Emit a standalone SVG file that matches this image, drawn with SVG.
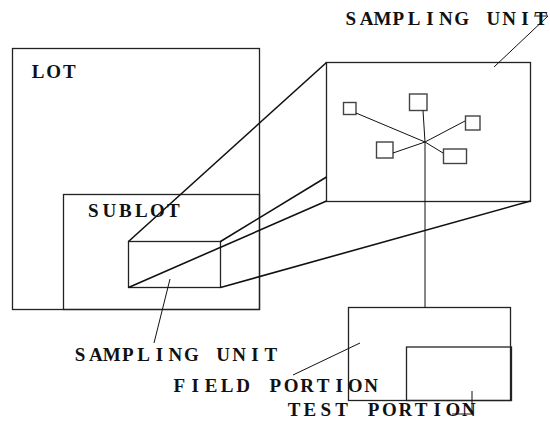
<svg xmlns="http://www.w3.org/2000/svg" width="550" height="421" viewBox="0 0 550 421">
<style>
.box{fill:none;stroke:#222;stroke-width:1.3}
.sm{fill:none;stroke:#444;stroke-width:1.4}
.con{fill:none;stroke:#111;stroke-width:1.6}
.thin{fill:none;stroke:#111;stroke-width:1}
.lbl{font-family:"Liberation Serif","Times New Roman",serif;font-size:19px;font-weight:bold;text-anchor:middle;fill:#111}
</style>
<rect width="550" height="421" fill="#fff"/>
<g id="lot"><rect class="box" x="12.5" y="48.5" width="247" height="261"/><text class="lbl" x="38 53.7 69.4" y="78">LOT</text></g>
<g id="sublot"><rect class="box" x="63.5" y="194.5" width="196" height="115"/><text class="lbl" x="93.3 109.3 125.3 141.3 157.3 173.3" y="217">SUBLOT</text></g>
<g id="unit-small"><rect class="box" x="128.5" y="241.5" width="92" height="46"/></g>
<g id="unit-big"><rect class="box" x="326.5" y="62.5" width="204" height="139"/>
<rect class="sm" x="343.5" y="102.5" width="12.5" height="12"/>
<rect class="sm" x="409.5" y="94" width="17.5" height="16.5"/>
<rect class="sm" x="465.5" y="116" width="14.5" height="14"/>
<rect class="sm" x="376.5" y="142" width="16.5" height="16"/>
<rect class="sm" x="443.5" y="149" width="23" height="14.5"/>
</g>
<g id="field-portion"><rect class="box" x="348.5" y="307.5" width="162" height="93"/></g>
<g id="test-portion"><rect class="box" x="406.5" y="347" width="105" height="53.5"/></g>
<g id="labels">
<text class="lbl" x="350.8 366.6 382.5 398.3 414.1 430 445.8 461.6 477.4 493.3 509.1 524.9 540.8" y="25">SAMPLING UNIT</text>
<text class="lbl" x="80 95.9 111.8 127.7 143.6 159.5 175.4 191.3 207.2 223.1 239 254.9 270.8" y="361">SAMPLING UNIT</text>
<text class="lbl" x="179.2 195.2 211.2 227.2 243.2 259.2 275.2 291.2 307.2 323.2 339.2 355.2 371.2" y="392">FIELD PORTION</text>
<text class="lbl" x="294 309.9 325.8 341.7 357.6 373.5 389.4 405.3 421.2 437.1 453 468.9" y="416">TEST PORTION</text>
</g>
<g id="connectors">
<line class="con" x1="128.5" y1="241.5" x2="326.5" y2="62.5"/>
<line class="con" x1="220.5" y1="241.5" x2="326.5" y2="177"/>
<line class="con" x1="128.5" y1="287.5" x2="326.5" y2="201"/>
<line class="con" x1="220.5" y1="287.5" x2="530.5" y2="201"/>
<polyline class="thin" points="356,113 425,142 443,153"/>
<polyline class="thin" points="465,121 425,142 393,153"/>
<polyline class="thin" points="423,110.5 425,142 425,307.5"/>
<polyline class="thin" points="494,67 548,16 534,16"/>
<line class="thin" x1="170" y1="279" x2="154" y2="343"/>
<line class="thin" x1="360" y1="343" x2="293" y2="375"/>
<polyline class="thin" points="472,391 472,414 452,414"/>
</g>
</svg>
